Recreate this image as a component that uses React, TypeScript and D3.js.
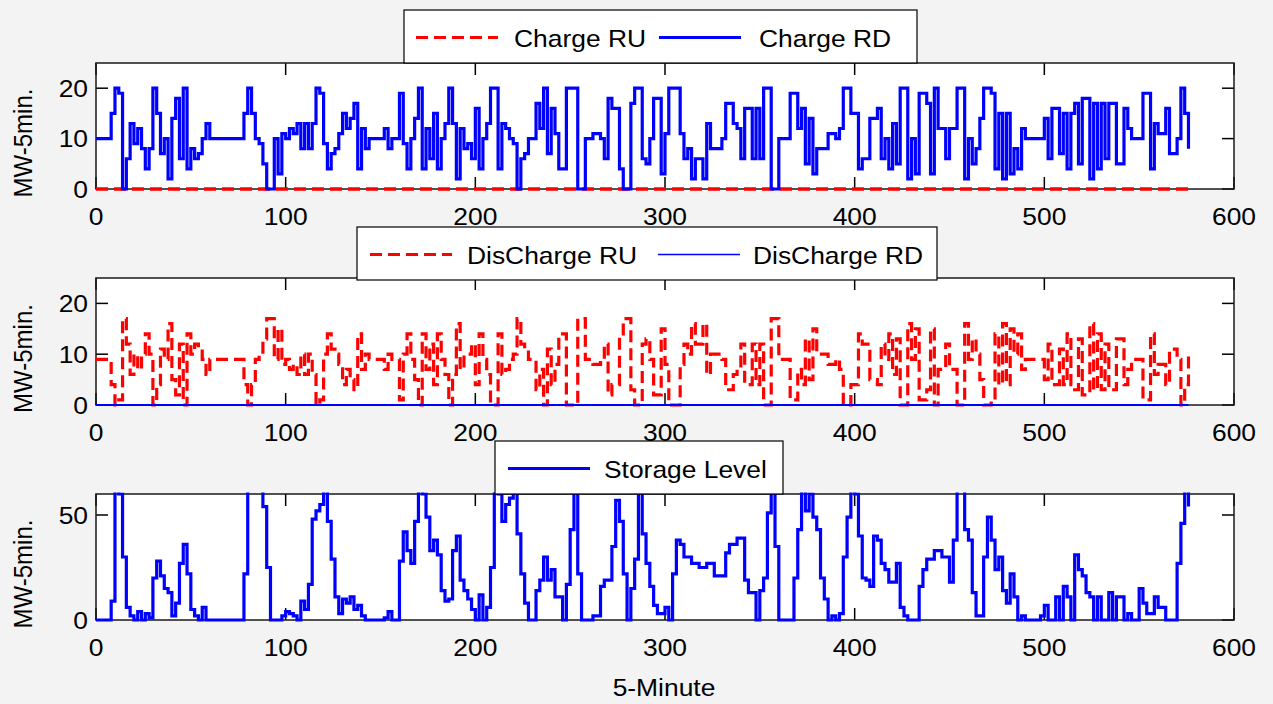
import React, { useEffect } from 'react';
import * as d3 from 'd3';

// ---- data (sampled every 2 five-minute steps, t = 0..576) ----
const sampleStep = 2;

const chargeRD = [
  10,10,10,10,15,20,19,0,6,13,
  9,12,8,4,8,20,15,7,10,2,
  14,18,6,20,4,8,6,7,10,13,
  10,10,10,10,10,10,10,10,10,15,
  20,15,10,9,5,0,0,10,3,11,
  10,12,11,13,8,13,8,13,20,19,
  9,4,7,8,11,15,12,14,17,4,
  12,8,10,10,10,10,12,8,10,10,
  19,9,4,10,14,20,4,12,6,15,
  4,10,13,20,13,2,12,8,9,6,
  16,4,10,13,20,20,4,13,12,10,
  9,0,6,7,10,10,17,12,20,7,
  16,11,4,4,20,20,20,0,0,10,
  10,11,11,10,6,18,16,16,4,0,
  0,17,20,20,6,5,10,18,18,3,
  11,20,20,20,11,6,8,2,6,6,
  2,13,8,8,8,10,17,17,13,12,
  6,16,16,6,16,6,20,20,0,0,
  10,10,10,19,19,12,16,5,14,3,
  8,8,8,11,11,10,12,20,20,15,
  15,4,6,6,14,14,16,6,10,4,
  13,5,20,20,2,10,3,19,19,17,
  3,20,12,12,6,12,12,20,20,2,
  10,5,8,14,20,20,19,4,15,2,
  15,3,8,4,12,10,10,10,10,10,
  14,6,16,16,7,15,4,15,17,5,
  18,18,2,17,4,17,6,17,17,5,
  5,16,12,10,10,10,19,19,4,13,
  11,11,16,7,7,10,20,15,8,
];

const chargeRUTimes = [0, 576];
const chargeRU = [0, 0];

const dischargeRU = [
  9,9,9,9,4,0,1,17,12,6,
  10,7,10,14,10,0,4,11,9,16,
  5,2,12,0,14,10,12,11,9,6,
  9,9,9,9,9,9,9,9,9,4,
  0,4,9,10,13,17,17,9,15,8,
  9,7,8,6,10,6,10,6,0,1,
  10,14,11,10,8,4,7,5,3,14,
  7,10,9,9,9,9,7,10,9,9,
  1,10,14,9,5,0,14,7,12,4,
  14,9,6,0,6,16,7,10,10,12,
  4,14,9,6,0,0,14,6,7,9,
  10,17,12,11,9,9,3,7,0,11,
  4,8,14,14,0,0,0,17,17,9,
  9,8,8,9,12,2,4,4,14,17,
  17,3,0,0,12,13,9,2,2,15,
  8,0,0,0,8,12,10,16,12,12,
  16,6,10,10,10,9,3,3,6,7,
  12,4,4,12,4,12,0,0,17,17,
  9,9,9,1,1,7,4,13,5,15,
  10,10,10,8,8,9,7,0,0,4,
  4,14,12,12,5,5,4,12,9,14,
  6,13,0,0,16,9,15,1,1,3,
  15,0,7,7,12,7,7,0,0,16,
  9,13,10,5,0,0,1,14,4,16,
  4,15,10,14,7,9,9,9,9,9,
  5,12,4,4,11,4,14,4,3,13,
  2,2,16,3,14,3,12,3,3,13,
  13,4,7,9,9,9,1,1,14,6,
  8,8,4,11,11,9,0,4,10,
];

const dischargeRDTimes = [0, 576];
const dischargeRD = [0, 0];

const storage = [
  0,0,0,0,9,62,60,30,6,2,
  0,4,0,3,1,20,28,21,15,13,
  2,8,27,36,22,5,2,0,6,0,
  0,0,0,0,0,0,0,0,0,22,
  62,62,62,62,54,25,0,0,0,2,
  4,3,2,0,9,5,17,48,52,55,
  62,47,29,11,3,10,8,11,5,7,
  2,0,0,0,0,0,1,4,0,0,
  28,42,33,27,47,62,60,49,33,38,
  31,14,9,10,33,40,19,14,10,5,
  0,12,0,6,25,62,60,47,55,58,
  62,41,22,8,0,0,14,19,30,19,
  24,11,11,0,17,43,62,22,0,0,
  0,2,2,16,19,19,35,57,47,22,
  0,15,29,62,41,27,16,7,3,3,
  6,0,22,38,36,30,30,27,27,25,
  25,27,27,21,21,21,32,36,36,39,
  39,19,13,13,0,14,20,51,62,35,
  0,0,0,0,20,43,62,52,60,49,
  43,20,10,0,2,0,3,30,49,62,
  60,40,20,19,16,40,38,27,24,18,
  18,27,6,2,0,0,0,16,24,29,
  29,33,33,30,30,18,38,62,62,43,
  38,13,2,2,30,49,38,24,30,14,
  8,22,11,0,2,0,0,0,0,2,
  7,0,0,11,0,16,11,0,31,24,
  21,13,11,0,11,0,0,13,0,11,
  11,0,3,0,0,15,8,3,3,11,
  6,6,0,0,0,27,46,62,54,
];

const xTicks = [0, 100, 200, 300, 400, 500, 600];
const yTicksTop = [0, 10, 20];
const yTicksMid = [0, 10, 20];
const yTicksBottom = [0, 50];

const legend1 = ['Charge RU', 'Charge RD'];
const legend2 = ['DisCharge RU', 'DisCharge RD'];
const legend3 = ['Storage Level'];

const yLabel = 'MW-5min.';
const xLabel = '5-Minute';

// ---- layout ----
const W = 1273;
const H = 704;
const X0 = 96;
const X1 = 1234;
const FONT = "'Liberation Sans', Arial, sans-serif";
const FS = 24;
const SX = 1.1;
const RED = '#ff0000';
const BLUE = '#0000ff';

const x = d3.scaleLinear().domain([0, 600]).range([X0, X1]);

type Series = { t: number[]; v: number[]; color: string; width: number; dash?: string };

function sampled(v: number[]) {
  return v.map((_, i) => i * sampleStep);
}

function Txt({ x, y, anchor = 'start', rotate = false, children }: any) {
  const tr = rotate
    ? `translate(${x},${y}) rotate(-90) scale(1,${SX})`
    : `translate(${x},${y}) scale(${SX},1)`;
  return (
    <text transform={tr} textAnchor={anchor} fontFamily={FONT} fontSize={FS} fill="#000">
      {children}
    </text>
  );
}

function Panel({ id, top, bottom, ymax, yTicks, series }: any) {
  const y = d3.scaleLinear().domain([0, ymax]).range([bottom, top]);
  const line = d3
    .line<[number, number]>()
    .x((d) => x(d[0]))
    .y((d) => y(d[1]))
    .curve(d3.curveStepAfter);
  const tick = 12;
  const mid = (top + bottom) / 2 + 17;
  return (
    <g>
      <defs>
        <clipPath id={`clip${id}`}>
          <rect x={X0 - 2} y={top - 1.5} width={X1 - X0 + 4} height={bottom - top + 3.5} />
        </clipPath>
      </defs>
      <rect x={X0} y={top} width={X1 - X0} height={bottom - top} fill="#fff" />
      {xTicks.map((t) => (
        <g key={'xt' + t}>
          <line x1={x(t)} x2={x(t)} y1={bottom} y2={bottom - tick} stroke="#000" strokeWidth={1.5} />
          <line x1={x(t)} x2={x(t)} y1={top} y2={top + tick} stroke="#000" strokeWidth={1.5} />
          <Txt x={x(t)} y={bottom + 36} anchor="middle">
            {t}
          </Txt>
        </g>
      ))}
      {yTicks.map((v: number) => (
        <g key={'yt' + v}>
          <line x1={X0} x2={X0 + tick} y1={y(v)} y2={y(v)} stroke="#000" strokeWidth={1.5} />
          <line x1={X1} x2={X1 - tick} y1={y(v)} y2={y(v)} stroke="#000" strokeWidth={1.5} />
          <Txt x={X0 - 8} y={y(v) + 8.5} anchor="end">
            {v}
          </Txt>
        </g>
      ))}
      <rect x={X0} y={top} width={X1 - X0} height={bottom - top} fill="none" stroke="#1a1a1a" strokeWidth={1.5} />
      <g clipPath={`url(#clip${id})`}>
        {series.map((s: Series, i: number) => (
          <path
            key={i}
            d={line(s.t.map((t, k) => [t, s.v[k]]) as [number, number][]) || ''}
            fill="none"
            stroke={s.color}
            strokeWidth={s.width}
            strokeDasharray={s.dash}
            strokeLinejoin="miter"
          />
        ))}
      </g>
      <Txt x={32} y={mid} anchor="middle" rotate>
        {yLabel}
      </Txt>
    </g>
  );
}

function Legend({ x0, y0, w, h, items }: any) {
  const cy = y0 + h / 2 + 1;
  return (
    <g>
      <rect x={x0} y={y0} width={w} height={h} fill="#fff" stroke="#000" strokeWidth={1.2} />
      {items.map((it: any, i: number) => (
        <g key={i}>
          <line
            x1={it.lx}
            x2={it.lx + 82}
            y1={cy}
            y2={cy}
            stroke={it.color}
            strokeWidth={it.width}
            strokeDasharray={it.dash}
          />
          <Txt x={it.tx} y={cy + 9}>
            {it.label}
          </Txt>
        </g>
      ))}
    </g>
  );
}

export default function App() {
  useEffect(() => {
    document.body.style.margin = '0';
  }, []);
  const tAll = sampled(chargeRD);
  const dash = '12,6';
  return (
    <svg
      width={W}
      height={H}
      style={{ position: 'fixed', left: 0, top: 0, display: 'block' }}
      xmlns="http://www.w3.org/2000/svg"
    >
      <rect x={0} y={0} width={W} height={H} fill="#f3f3f3" />
      <Panel
        id={1}
        top={63}
        bottom={189}
        ymax={25}
        yTicks={yTicksTop}
        series={[
          { t: chargeRUTimes, v: chargeRU, color: RED, width: 3.5, dash },
          { t: tAll, v: chargeRD, color: BLUE, width: 3.2 },
        ]}
      />
      <Panel
        id={2}
        top={278}
        bottom={405}
        ymax={25}
        yTicks={yTicksMid}
        series={[
          { t: sampled(dischargeRU), v: dischargeRU, color: RED, width: 3.2, dash },
          { t: dischargeRDTimes, v: dischargeRD, color: BLUE, width: 2 },
        ]}
      />
      <Panel
        id={3}
        top={494}
        bottom={620}
        ymax={60}
        yTicks={yTicksBottom}
        series={[{ t: sampled(storage), v: storage, color: BLUE, width: 3.2 }]}
      />
      <Legend
        x0={404}
        y0={10}
        w={513}
        h={53}
        items={[
          { lx: 416, tx: 514, label: legend1[0], color: RED, width: 3, dash },
          { lx: 659, tx: 759, label: legend1[1], color: BLUE, width: 3 },
        ]}
      />
      <Legend
        x0={357}
        y0={227}
        w={580}
        h={53}
        items={[
          { lx: 370, tx: 467, label: legend2[0], color: RED, width: 3, dash },
          { lx: 658, tx: 753, label: legend2[1], color: BLUE, width: 1.5 },
        ]}
      />
      <Legend
        x0={495}
        y0={441}
        w={288}
        h={53}
        items={[{ lx: 508, tx: 604, label: legend3[0], color: BLUE, width: 3 }]}
      />
      <Txt x={664} y={696} anchor="middle">
        {xLabel}
      </Txt>
    </svg>
  );
}
